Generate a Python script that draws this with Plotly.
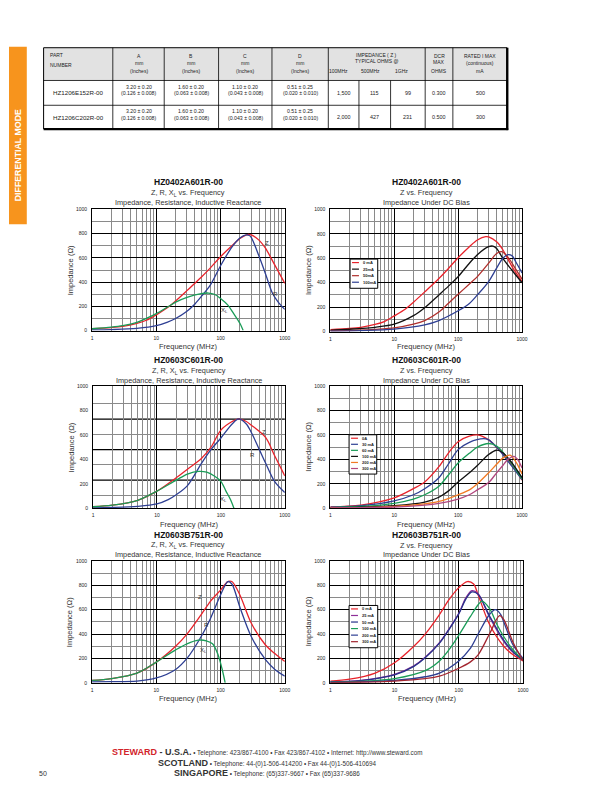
import math
import plotly.graph_objects as go

# ======================= DATA =======================
# ---- table ----
tbl_part = ["HZ1206E152R-00", "HZ1206C202R-00"]
tbl_a_mm = ["3.20 ± 0.20", "3.20 ± 0.20"]
tbl_a_in = ["(0.126 ± 0.008)", "(0.126 ± 0.008)"]
tbl_b_mm = ["1.60 ± 0.20", "1.60 ± 0.20"]
tbl_b_in = ["(0.063 ± 0.008)", "(0.063 ± 0.008)"]
tbl_c_mm = ["1.10 ± 0.20", "1.10 ± 0.20"]
tbl_c_in = ["(0.043 ± 0.008)", "(0.043 ± 0.008)"]
tbl_d_mm = ["0.51 ± 0.25", "0.51 ± 0.25"]
tbl_d_in = ["(0.020 ± 0.010)", "(0.020 ± 0.010)"]
tbl_z100 = ["1,500", "2,000"]
tbl_z500 = ["115", "427"]
tbl_z1g = ["99", "231"]
tbl_dcr = ["0.300", "0.500"]
tbl_imax = ["500", "300"]
tbl_dim_letters = ["A", "B", "C", "D"]
tbl_z_freqs = ["100MHz", "500MHz", "1GHz"]

# ---- HZ0402A601R-00 : Z, R, XL ----
a601_z_f = [1, 2, 3, 5, 7, 10, 15, 20, 30, 50, 70, 100, 150, 200, 270, 300, 400, 500, 700, 1000]
a601_z = [15, 25, 35, 60, 85, 130, 190, 245, 330, 440, 520, 610, 700, 760, 795, 790, 745, 680, 540, 390]
a601_r_f = [1, 2, 5, 10, 15, 20, 30, 40, 50, 70, 100, 150, 200, 250, 280, 300, 400, 500, 640, 800, 1000]
a601_r = [5, 8, 18, 40, 70, 100, 160, 220, 280, 380, 535, 690, 765, 790, 785, 770, 610, 470, 310, 230, 175]
a601_xl_f = [1, 2, 3, 5, 7, 10, 15, 20, 30, 50, 65, 80, 100, 130, 160, 200, 225]
a601_xl = [15, 28, 40, 68, 100, 140, 195, 235, 275, 305, 310, 300, 265, 210, 140, 60, 0]

# ---- HZ0402A601R-00 : DC bias ----
a601_bias_names = ["0 mA", "25mA", "50mA", "100mA"]
a601_b0_f = [1, 2, 3, 5, 7, 10, 15, 20, 30, 50, 70, 100, 150, 200, 270, 300, 400, 500, 700, 1000]
a601_b0 = [15, 25, 35, 58, 82, 128, 185, 240, 325, 435, 515, 605, 695, 750, 778, 775, 735, 670, 530, 410]
a601_b25_f = [1, 3, 5, 10, 20, 30, 50, 70, 100, 150, 200, 300, 350, 400, 500, 700, 1000]
a601_b25 = [10, 25, 35, 60, 130, 195, 300, 370, 450, 560, 630, 695, 700, 680, 600, 500, 400]
a601_b50_f = [1, 3, 5, 10, 20, 30, 50, 70, 100, 150, 200, 300, 400, 480, 600, 800, 1000]
a601_b50 = [5, 12, 18, 30, 60, 90, 160, 230, 305, 390, 450, 560, 640, 655, 610, 510, 430]
a601_b100_f = [1, 3, 10, 30, 50, 100, 150, 200, 300, 400, 500, 600, 700, 800, 1000]
a601_b100 = [3, 8, 20, 55, 90, 170, 230, 300, 410, 520, 600, 630, 620, 570, 480]

# ---- HZ0603C601R-00 : Z, R, XL ----
c601_z_f = [1, 2, 5, 10, 20, 30, 50, 70, 100, 150, 190, 250, 300, 500, 700, 1000]
c601_z = [12, 25, 65, 140, 250, 320, 410, 500, 640, 710, 732, 710, 680, 580, 425, 265]
c601_r_f = [1, 2, 5, 10, 15, 20, 30, 50, 70, 100, 150, 190, 250, 300, 400, 500, 700, 1000]
c601_r = [3, 6, 15, 35, 70, 110, 185, 370, 480, 575, 690, 732, 690, 620, 480, 370, 215, 128]
c601_xl_f = [1, 2, 5, 10, 20, 30, 45, 60, 80, 100, 120, 140, 160]
c601_xl = [12, 25, 65, 140, 230, 280, 302, 295, 262, 220, 140, 75, 0]

# ---- HZ0603C601R-00 : DC bias ----
c601_bias_names = ["0A", "30 mA", "60 mA", "100 mA", "200 mA", "300 mA"]
c601_b0_f = [1, 3, 10, 20, 30, 50, 70, 100, 150, 200, 300, 400, 500, 700, 1000]
c601_b0 = [10, 25, 85, 160, 215, 340, 450, 545, 590, 600, 560, 500, 450, 350, 230]
c601_b30_f = [1, 3, 10, 20, 30, 50, 70, 100, 150, 250, 300, 400, 500, 700, 1000]
c601_b30 = [8, 20, 60, 110, 160, 250, 360, 480, 540, 570, 560, 500, 440, 340, 235]
c601_b60_f = [1, 3, 10, 20, 30, 50, 70, 100, 150, 200, 300, 400, 500, 700, 1000]
c601_b60 = [5, 14, 40, 75, 110, 180, 270, 370, 450, 500, 530, 510, 460, 360, 240]
c601_b100_f = [1, 3, 10, 30, 50, 70, 100, 150, 200, 300, 400, 500, 700, 1000]
c601_b100 = [3, 8, 20, 50, 90, 140, 215, 290, 350, 440, 475, 455, 370, 250]
c601_b200_f = [1, 3, 10, 30, 50, 100, 150, 200, 300, 400, 500, 650, 800, 1000]
c601_b200 = [2, 5, 15, 35, 55, 110, 150, 200, 290, 360, 410, 435, 380, 280]
c601_b300_f = [1, 3, 10, 30, 50, 100, 150, 200, 300, 400, 500, 600, 750, 850, 1000]
c601_b300 = [2, 4, 10, 25, 40, 75, 110, 150, 210, 290, 350, 400, 425, 400, 330]

# ---- HZ0603B751R-00 : Z, R, XL ----
b751_z_f = [1, 2, 5, 10, 20, 30, 50, 70, 100, 130, 150, 200, 300, 500, 700, 1000]
b751_z = [20, 35, 80, 170, 300, 400, 560, 670, 760, 830, 830, 720, 490, 310, 240, 175]
b751_r_f = [1, 2, 5, 10, 20, 30, 50, 70, 100, 130, 150, 200, 300, 500, 700, 1000]
b751_r = [8, 10, 15, 40, 110, 200, 380, 530, 720, 830, 810, 620, 380, 190, 110, 55]
b751_xl_f = [1, 2, 5, 10, 20, 30, 45, 60, 75, 90, 105, 118]
b751_xl = [20, 35, 80, 170, 270, 320, 350, 345, 320, 240, 120, 0]

# ---- HZ0603B751R-00 : DC bias ----
b751_bias_names = ["0 mA", "25 mA", "50 mA", "100 mA", "200 mA", "300 mA"]
b751_b0_f = [1, 2, 5, 10, 20, 30, 50, 70, 100, 135, 170, 200, 300, 500, 700, 1000]
b751_b0 = [15, 30, 80, 165, 300, 400, 560, 680, 780, 830, 810, 720, 480, 300, 230, 180]
b751_b25_f = [1, 3, 10, 20, 30, 50, 70, 100, 130, 160, 200, 300, 500, 700, 1000]
b751_b25 = [8, 20, 70, 140, 210, 330, 440, 570, 700, 755, 730, 540, 340, 250, 190]
b751_b50_f = [1, 3, 10, 20, 30, 50, 70, 100, 130, 160, 200, 300, 500, 700, 1000]
b751_b50 = [7, 18, 65, 135, 205, 325, 435, 565, 690, 745, 725, 550, 350, 255, 185]
b751_b100_f = [1, 3, 10, 30, 50, 70, 100, 150, 200, 230, 300, 400, 500, 700, 1000]
b751_b100 = [5, 12, 35, 100, 180, 270, 390, 540, 640, 670, 610, 470, 380, 270, 190]
b751_b200_f = [1, 3, 10, 30, 50, 100, 150, 200, 300, 370, 450, 500, 700, 1000]
b751_b200 = [3, 8, 20, 50, 80, 180, 280, 400, 560, 600, 560, 500, 310, 200]
b751_b300_f = [1, 3, 10, 30, 50, 100, 150, 200, 300, 430, 500, 700, 1000]
b751_b300 = [2, 5, 15, 35, 55, 120, 170, 230, 400, 550, 520, 330, 180]

# axis tick labels
x_tickvals = [1, 10, 100, 1000]
x_ticktext = ["1", "10", "100", "1000"]
y_tickvals = [0, 200, 400, 600, 800, 1000]
y_ticktext = ["0", "200", "400", "600", "800", "1000"]

# ======================= STYLE / LAYOUT =======================
W, H = 612, 792
FONT = "Liberation Sans, Arial, sans-serif"
RED = "#e8232b"
BLUE = "#2e3f93"
GREEN = "#1a9c57"
BLACK = "#111111"
BROWN = "#b0302c"
ORANGE = "#f27a24"
MAGENTA = "#b2467e"
PURPLE = "#8e2e98"
NAVY = "#26318a"
DKRED = "#a3252f"
GRID_MINOR = "#8a8a8a"
TXT = "#333333"


def PX(x):
    return x / W


def PY(y):
    return 1 - y / H


fig = go.Figure()
shapes = []
annotations = []


def text(x, y, s, size=5, color="#222222", family=FONT, xanchor="center", angle=0):
    annotations.append(dict(x=PX(x), y=PY(y), xref="paper", yref="paper", text=s,
                            showarrow=False, xanchor=xanchor, yanchor="middle",
                            textangle=angle,
                            font=dict(size=size, color=color, family=family)))


def line(x0, y0, x1, y1, w=0.8, color="black"):
    shapes.append(dict(type="line", xref="paper", yref="paper", x0=PX(x0), y0=PY(y0),
                       x1=PX(x1), y1=PY(y1), line=dict(color=color, width=w)))


# ---------------- side tab ----------------
shapes.append(dict(type="rect", xref="paper", yref="paper", x0=PX(0), x1=PX(18),
                   y0=PY(215), y1=PY(36), fillcolor="#f7941d", line=dict(width=0)))
text(9.5, 145, "<b>DIFFERENTIAL MODE</b>", size=8.8, color="white", angle=-90)

# ---------------- table ----------------
col_edges = [35, 105, 157, 212, 266, 323, 421, 449, 504]
z_sub_edges = [323, 354, 386, 421]
row_edges = [37, 70, 95, 119]
shapes.append(dict(type="rect", xref="paper", yref="paper", x0=PX(col_edges[0]), x1=PX(col_edges[-1]),
                   y0=PY(row_edges[1]), y1=PY(row_edges[0]), fillcolor="#e2e2e2", line=dict(width=0)))
for xe in col_edges[1:-1]:
    line(xe, row_edges[0], xe, row_edges[-1])
for xe in z_sub_edges[1:-1]:
    line(xe, row_edges[1], xe, row_edges[-1])
for ye in row_edges[1:-1]:
    line(col_edges[0], ye, col_edges[-1], ye)
line(col_edges[0], row_edges[0], col_edges[-1], row_edges[0], w=1)
line(col_edges[0], row_edges[0], col_edges[0], row_edges[-1], w=1)
line(col_edges[-1], row_edges[0], col_edges[-1], row_edges[-1] + 1, w=2.4)
line(col_edges[0], row_edges[-1], col_edges[-1] + 1, row_edges[-1], w=2.4)

HF = 5
text(39, 44.5, "PART", size=HF, xanchor="left")
text(39, 54, "NUMBER", size=HF, xanchor="left")
for i, letter in enumerate(tbl_dim_letters):
    cx = (col_edges[i + 1] + col_edges[i + 2]) / 2
    text(cx, 45, letter, size=HF)
    text(cx, 52, "mm", size=HF)
    text(cx, 60.5, "(Inches)", size=HF)
zc = (col_edges[5] + col_edges[6]) / 2
text(zc, 44.5, "IMPEDANCE ( Z )", size=HF)
text(zc, 50.5, "TYPICAL OHMS @", size=HF)
for i, fq in enumerate(tbl_z_freqs):
    text([333.5, 366, 397][i], 60.5, fq, size=HF)
dc = (col_edges[6] + col_edges[7]) / 2
text(dc, 45, "DCR", size=HF)
text(dc, 51.5, "MAX", size=HF)
text(dc, 60, "OHMS", size=HF)
rc = (col_edges[7] + col_edges[8]) / 2
text(rc, 45, "RATED I MAX", size=HF)
text(rc, 52, "(continuous)", size=HF)
text(rc, 60.5, "mA", size=HF)

dims_mm = [tbl_a_mm, tbl_b_mm, tbl_c_mm, tbl_d_mm]
dims_in = [tbl_a_in, tbl_b_in, tbl_c_in, tbl_d_in]
for r in range(len(tbl_part)):
    cy = (row_edges[r + 1] + row_edges[r + 2]) / 2
    text((col_edges[0] + col_edges[1]) / 2, cy, tbl_part[r], size=6.2)
    for i in range(4):
        cx = (col_edges[i + 1] + col_edges[i + 2]) / 2
        text(cx, cy - 6, dims_mm[i][r], size=5.2)
        text(cx, cy + 0.5, dims_in[i][r], size=5.2)
    zvals = [tbl_z100[r], tbl_z500[r], tbl_z1g[r]]
    for i in range(3):
        text((z_sub_edges[i] + z_sub_edges[i + 1]) / 2, cy, zvals[i], size=5.4)
    text(dc, cy, tbl_dcr[r], size=5.4)
    text(rc, cy, tbl_imax[r], size=5.4)

# ---------------- charts ----------------
panels = [
    dict(box=(84, 279, 200, 322), titles=(172.5, 183, 193), part="HZ0402A601R-00", kind="zrx",
         series=[("Z", a601_z_f, a601_z, RED), ("R", a601_r_f, a601_r, BLUE), ("XL", a601_xl_f, a601_xl, GREEN)],
         labels=[("Z", 535, 720), ("R", 718, 304), ("X<sub>L</sub>", 115, 168)]),
    dict(box=(325, 519, 200, 323), titles=(172.5, 183, 193), part="HZ0402A601R-00", kind="bias",
         series=list(zip(a601_bias_names, [a601_b0_f, a601_b25_f, a601_b50_f, a601_b100_f],
                         [a601_b0, a601_b25, a601_b50, a601_b100], [RED, BLACK, BROWN, BLUE])),
         legend=(345, 250, 28, 6.6)),
    dict(box=(85, 279, 378, 501), titles=(352, 362.5, 372), part="HZ0603C601R-00", kind="zrx",
         series=[("Z", c601_z_f, c601_z, RED), ("R", c601_r_f, c601_r, BLUE), ("XL", c601_xl_f, c601_xl, GREEN)],
         labels=[("Z", 478, 623), ("R", 316, 439), ("X<sub>L</sub>", 109, 73)],
         ygrid=([230, 480, 730], [105, 355, 605, 855])),
    dict(box=(325, 519, 378, 501), titles=(352, 362.5, 372), part="HZ0603C601R-00", kind="bias",
         series=list(zip(c601_bias_names,
                         [c601_b0_f, c601_b30_f, c601_b60_f, c601_b100_f, c601_b200_f, c601_b300_f],
                         [c601_b0, c601_b30, c601_b60, c601_b100, c601_b200, c601_b300],
                         [RED, BLUE, GREEN, BLACK, ORANGE, MAGENTA])),
         legend=(344, 427, 28, 6.1)),
    dict(box=(84, 279, 554, 677), titles=(528, 538.5, 547.5), part="HZ0603B751R-00", kind="zrx",
         series=[("Z", b751_z_f, b751_z, RED), ("R", b751_r_f, b751_r, BLUE), ("XL", b751_xl_f, b751_xl, GREEN)],
         labels=[("Z", 48, 702), ("R", 61, 471), ("X<sub>L</sub>", 54, 267)]),
    dict(box=(325, 520, 554, 677), titles=(528, 538.5, 547.5), part="HZ0603B751R-00", kind="bias",
         series=list(zip(b751_bias_names,
                         [b751_b0_f, b751_b25_f, b751_b50_f, b751_b100_f, b751_b200_f, b751_b300_f],
                         [b751_b0, b751_b25, b751_b50, b751_b100, b751_b200, b751_b300],
                         [RED, PURPLE, NAVY, GREEN, BLUE, DKRED])),
         legend=(344, 599, 29, 6.6)),
]

x_minor = [m * d for d in (1, 10, 100) for m in range(2, 10)]
layout_axes = {}
xtitle_y = {200: 338.5, 378: 517, 554: 693}

for i, p in enumerate(panels, start=1):
    x0, x1, y0, y1 = p["box"]
    xa = "x" if i == 1 else f"x{i}"
    ya = "y" if i == 1 else f"y{i}"
    for name, fx, fy, col in p["series"]:
        fig.add_trace(go.Scatter(x=fx, y=fy, mode="lines", name=name, xaxis=xa, yaxis=ya,
                                 line=dict(color=col, width=1.3, shape="spline", smoothing=0.9),
                                 showlegend=False, hoverinfo="skip"))
    special = p.get("ygrid")
    layout_axes["xaxis" if i == 1 else f"xaxis{i}"] = dict(
        type="log", range=[0, 3], domain=[PX(x0), PX(x1)], anchor=ya,
        tickmode="array", tickvals=x_tickvals, ticktext=x_ticktext,
        showgrid=True, gridcolor="black", gridwidth=1.3,
        minor=dict(tickmode="array", tickvals=x_minor, showgrid=True, gridcolor=GRID_MINOR, gridwidth=1.1, ticks=""),
        showline=True, mirror=True, linecolor="black", linewidth=1, ticks="", zeroline=False,
        tickfont=dict(size=5, family=FONT, color="#222222"), ticklabelstandoff=2, fixedrange=True)
    if special:
        ymaj, ymin = special
        ygrid_on = False
        minor_vals = ymin
        for gv in ymaj:
            shapes.append(dict(type="line", xref=f"{xa} domain", yref=ya, x0=0, x1=1, y0=gv, y1=gv,
                               layer="below", line=dict(color="black", width=1.3)))
    else:
        ygrid_on = True
        minor_vals = [100, 300, 500, 700, 900]
    layout_axes["yaxis" if i == 1 else f"yaxis{i}"] = dict(
        range=[0, 1000], domain=[PY(y1), PY(y0)], anchor=xa,
        tickmode="array", tickvals=y_tickvals, ticktext=y_ticktext,
        showgrid=ygrid_on, gridcolor="black", gridwidth=1.3,
        minor=dict(tickmode="array", tickvals=minor_vals, showgrid=True, gridcolor=GRID_MINOR, gridwidth=1.1, ticks=""),
        showline=True, mirror=True, linecolor="black", linewidth=1, ticks="", zeroline=False,
        tickfont=dict(size=5, family=FONT, color="#222222"), ticklabelstandoff=3, fixedrange=True)

    cx = (x0 + x1) / 2
    t1, t2, t3 = p["titles"]
    text(cx, t1, "<b>" + p["part"] + "</b>", size=8.5, color="#111111")
    if p["kind"] == "zrx":
        text(cx, t2, "Z, R, X<sub>L</sub> vs. Frequency", size=7.3, color=TXT)
        text(cx, t3, "Impedance, Resistance, Inductive Reactance", size=7.3, color=TXT)
    else:
        text(cx, t2, "Z vs. Frequency", size=7.3, color=TXT)
        text(cx, t3, "Impedance Under DC Bias", size=7.3, color=TXT)
    text(cx, xtitle_y[y0], "Frequency (MHz)", size=7.5, color=TXT)
    text(x0 - 22, (y0 + y1) / 2, "Impedance (Ω)", size=7.5, color=TXT, angle=-90)

    for lab, lx, ly in p.get("labels", []):
        annotations.append(dict(x=math.log10(lx), y=ly, xref=xa, yref=ya, text=lab,
                                showarrow=False, font=dict(size=6, color=TXT, family=FONT)))

    if "legend" in p:
        lx0, ly0, lw, sp = p["legend"]
        n = len(p["series"])
        lh = n * sp + 3
        shapes.append(dict(type="rect", xref="paper", yref="paper", x0=PX(lx0), x1=PX(lx0 + lw),
                           y0=PY(ly0 + lh), y1=PY(ly0), fillcolor="white",
                           line=dict(color="black", width=1), layer="above"))
        for k, (name, _, _, col) in enumerate(p["series"]):
            yy = ly0 + 3.5 + k * sp
            shapes.append(dict(type="line", xref="paper", yref="paper", x0=PX(lx0 + 2), x1=PX(lx0 + 9),
                               y0=PY(yy), y1=PY(yy), line=dict(color=col, width=1.2), layer="above"))
            text(lx0 + 11, yy, "<b>" + name + "</b>", size=4, color="#222222", xanchor="left")

# ---------------- footer ----------------
BOLD = "font-size:9px;font-weight:bold"
text(261, 747, f"<span style=\"{BOLD};color:#d2232a\">STEWARD</span><span style=\"{BOLD}\"> - U.S.A.</span>"
               " • Telephone: 423/867-4100 • Fax 423/867-4102 • Internet: http://www.steward.com",
     size=6.3, color=TXT)
text(261, 758, f"<span style=\"{BOLD}\">SCOTLAND</span> • Telephone: 44-(0)1-506-414200 • Fax 44-(0)1-506-410694",
     size=6.3, color=TXT)
text(261, 768, f"<span style=\"{BOLD}\">SINGAPORE</span> • Telephone: (65)337-9667 • Fax (65)337-9686",
     size=6.3, color=TXT)
text(34, 768, "50", size=7, color=TXT)

fig.update_layout(width=W, height=H, margin=dict(l=0, r=0, t=0, b=0, pad=0),
                  paper_bgcolor="white", plot_bgcolor="white", showlegend=False,
                  shapes=shapes, annotations=annotations, **layout_axes)
fig.write_html("out.html")
